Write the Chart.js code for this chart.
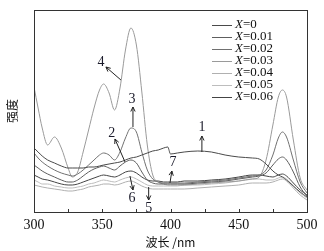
<!DOCTYPE html>
<html><head><meta charset="utf-8">
<script src="https://cdn.jsdelivr.net/npm/chart.js@4/dist/chart.umd.min.js"></script>
<style>html,body{margin:0;padding:0;background:#fff}#wrap{width:324px;height:251px}</style>
</head><body><div id="wrap"><canvas id="c" width="324" height="251"></canvas></div>
<script>
// wavelength (nm)
const wavelengths = [300,303,306,310,315,320,325,328,332,336,340,344,348,351,355,359,363,367,371,375,379,383,387,391,395,398,400,405,410,420,430,440,450,460,465,470,475,479,482,485,490,495,500];
const seriesLabels = ['0','0.01','0.02','0.03','0.04','0.05','0.06'];
// intensity (a.u.)
const s1 = [64,60,56,52,49,46,44,44,44,44,45,45,46,47,48,49,50,52,54,55,57,59,61,62,64,65,58,59,60,61,60,57,55,54,53,48,41,37,35,32,26,20,15];
const s2 = [47,44,41,38,35,32,30,30,32,36,40,43,45,46,44,42,46,50,52,49,40,32,29,28,28,28,28,28,28,29,30,31,33,35,36,39,47,53,55,52,40,25,16];
const s3 = [59,54,50,46,42,39,37,36,38,42,47,52,57,59,57,52,60,74,84,80,60,42,33,30,29,29,29,29,29,30,31,32,34,36,37,42,57,74,80,75,52,30,19];
const s4 = [125,104,84,67,75,64,44,35,40,60,82,104,122,128,119,102,124,162,184,167,120,67,37,30,28,27,27,27,27,28,29,30,31,33,35,52,87,115,122,115,72,34,22];
const s5 = [27,26,25,24,23,22,21,21,22,23,25,26,27,28,28,27,28,30,31,29,26,24,23,23,23,23,23,23,23,24,25,26,27,29,29,29,30,32,33,31,24,17,12];
const s6 = [32,30,28,28,26,25,24,24,25,26,28,29,31,32,31,30,32,34,35,33,30,27,26,26,26,26,26,26,27,27,28,29,31,33,33,32,32,34,35,33,26,19,14];
const s7 = [37,35,33,32,30,28,27,27,28,30,32,34,36,37,36,35,37,40,41,39,35,32,31,31,30,30,30,30,31,31,32,33,35,37,37,36,35,37,38,36,29,22,17];
const xTicks = [300,350,400,450,500];
// curve labels: [text, labelNm, labelVal, tailNm, tailVal, headNm, headVal]
const notes = [
  ['1',423,85,423,60,423,76],
  ['2',357,79,366.7,50,359.3,73],
  ['3',371.8,113,372.5,85,372.5,105],
  ['4',349,150,363.7,132,352.7,145],
  ['5',384,4,384,25,384,12],
  ['6',371.8,14,370.3,36,372.5,22],
  ['7',401.8,50,399.6,29,401,41]
];
const colors = ['#4a4a4a','#5e5e5e','#707070','#9a9a9a','#b0b0b0','#bdbdbd','#444444'];
const allSeries = [s1,s2,s3,s4,s5,s6,s7];

const datasets = allSeries.map((s,i)=>({
  label:'X='+seriesLabels[i],
  data: s.map((v,j)=>({x:wavelengths[j], y:v})),
  borderColor: colors[i], borderWidth:1, pointRadius:0, fill:false,
  cubicInterpolationMode:'monotone'
}));

const deco = {
  id:'deco',
  afterDraw(chart){
    const {ctx, chartArea:a, scales:{x,y}} = chart;
    ctx.save();
    // frame
    ctx.strokeStyle='#333'; ctx.lineWidth=1;
    ctx.strokeRect(Math.round(a.left)+0.5, Math.round(a.top)+0.5, Math.round(a.right-a.left), Math.round(a.bottom-a.top));
    // inward ticks every 25 nm
    ctx.beginPath();
    for(let v=325; v<500; v+=25){
      const px=Math.round(x.getPixelForValue(v))+0.5;
      ctx.moveTo(px, a.bottom); ctx.lineTo(px, a.bottom-3);
    }
    ctx.stroke();
    // legend
    ctx.textBaseline='middle';
    datasets.forEach((d,i)=>{
      const yy = a.top + 15 + i*12;
      const x0 = a.right - 95;
      ctx.strokeStyle=d.borderColor; ctx.lineWidth=1;
      ctx.beginPath(); ctx.moveTo(x0, Math.round(yy)+0.5); ctx.lineTo(x0+20, Math.round(yy)+0.5); ctx.stroke();
      ctx.fillStyle='#111';
      ctx.font='italic 13px "Liberation Serif", serif';
      ctx.fillText('X', x0+23, yy);
      const w = ctx.measureText('X').width;
      ctx.font='13px "Liberation Serif", serif';
      ctx.fillText('='+seriesLabels[i], x0+23+w, yy);
    });
    // curve number labels + arrows
    ctx.strokeStyle='#222'; ctx.fillStyle='#1a1a2a'; ctx.lineWidth=1;
    ctx.font='14px "Liberation Serif", serif'; ctx.textAlign='center';
    notes.forEach(n=>{
      const lx=x.getPixelForValue(n[1]), ly=y.getPixelForValue(n[2]);
      ctx.fillText(n[0], lx, ly);
      const tx=x.getPixelForValue(n[3]), ty=y.getPixelForValue(n[4]);
      const hx=x.getPixelForValue(n[5]), hy=y.getPixelForValue(n[6]);
      ctx.beginPath(); ctx.moveTo(tx,ty); ctx.lineTo(hx,hy); ctx.stroke();
      const ang=Math.atan2(hy-ty,hx-tx), L=5, sp=0.45;
      ctx.beginPath();
      ctx.moveTo(hx-L*Math.cos(ang-sp), hy-L*Math.sin(ang-sp));
      ctx.lineTo(hx,hy);
      ctx.lineTo(hx-L*Math.cos(ang+sp), hy-L*Math.sin(ang+sp));
      ctx.stroke();
    });
    ctx.restore();
  }
};

new Chart(document.getElementById('c'), {
  type:'line',
  data:{datasets},
  options:{
    responsive:false, animation:false,
    layout:{padding:{left:0,right:17,top:10,bottom:0}},
    plugins:{legend:{display:false}, tooltip:{enabled:false}},
    scales:{
      x:{type:'linear', min:300, max:500,
         afterFit(s){s.height=39;},
         afterBuildTicks(s){s.ticks = xTicks.map(v=>({value:v}));},
         grid:{display:false, drawTicks:false}, border:{display:false},
         ticks:{padding:5, color:'#111', font:{family:'"Liberation Serif", serif', size:14}, maxRotation:0, autoSkip:false},
         title:{display:true, text:'波长 /nm', color:'#111', font:{family:'"Noto Sans CJK SC", sans-serif', size:12}, padding:{top:0,bottom:1}}
      },
      y:{min:0, max:202,
         afterFit(s){s.width=34;},
         grid:{display:false, drawTicks:false}, border:{display:false},
         ticks:{display:false},
         title:{display:true, text:'强度', color:'#111', font:{family:'"Noto Sans CJK SC", sans-serif', size:12}, padding:{top:5,bottom:0}}
      }
    }
  },
  plugins:[deco]
});
</script></body></html>
